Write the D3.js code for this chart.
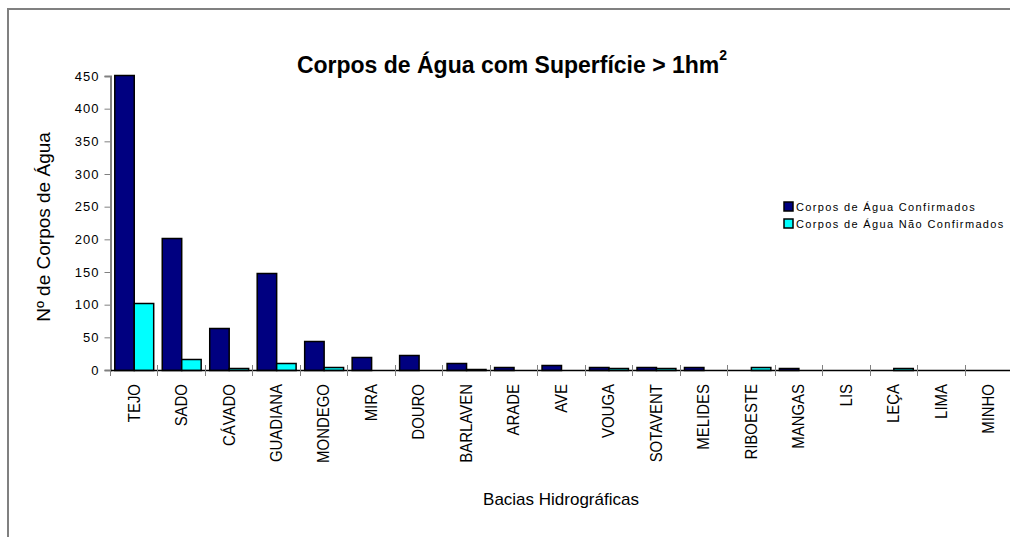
<!DOCTYPE html>
<html>
<head>
<meta charset="utf-8">
<script src="https://cdn.jsdelivr.net/npm/d3@7"></script>
<style>
  body { margin: 0; background: #fff; }
  svg { display: block; font-family: "Liberation Sans", Arial, sans-serif; }
</style>
</head>
<body>
<div id="chart"></div>
<script>
// bacias hidrograficas
var categories = ["TEJO", "SADO", "CÁVADO", "GUADIANA", "MONDEGO", "MIRA", "DOURO", "BARLAVEN", "ARADE", "AVE",
                  "VOUGA", "SOTAVENT", "MELIDES", "RIBOESTE", "MANGAS", "LIS", "LEÇA", "LIMA", "MINHO"];
var confirmados =    [452, 202, 65, 148, 44, 20, 23, 10, 4, 7, 4, 4, 4, 0, 3, 0, 0, 0, 0];
var naoConfirmados = [102, 17, 3, 10, 5, 0, 0, 2, 0, 0, 3, 3, 0, 5, 0, 0, 3, 0, 0];
var seriesNames = ["Corpos de Água Confirmados", "Corpos de Água Não Confirmados"];
var seriesColors = ["#000080", "#00ffff"];
var yTicks = [0, 50, 100, 150, 200, 250, 300, 350, 400, 450];

var width = 1010, height = 537;

var svg = d3.select("#chart").append("svg")
    .attr("width", width)
    .attr("height", height);

// outer frame
svg.append("rect")
    .attr("x", 8).attr("y", 9)
    .attr("width", 1100).attr("height", 600)
    .attr("fill", "none")
    .attr("stroke", "#808080")
    .attr("stroke-width", 2);

var x0 = d3.scaleBand()
    .domain(categories)
    .range([110, 1012]);

var x1 = d3.scaleBand()
    .domain([0, 1])
    .range([0, x0.bandwidth()])
    .paddingOuter(0.22);

var y = d3.scaleLinear()
    .domain([0, 450])
    .range([370, 76]);

var data = categories.map(function(c, i) {
  return {name: c, values: [confirmados[i], naoConfirmados[i]]};
});

// bars
var group = svg.selectAll("g.cat")
  .data(data)
  .enter().append("g")
    .attr("class", "cat")
    .attr("transform", function(d) { return "translate(" + x0(d.name) + ",0)"; });

group.selectAll("rect")
  .data(function(d) { return d.values.map(function(v, i) { return {v: v, i: i}; }); })
  .enter().filter(function(d) { return d.v > 0; }).append("rect")
    .attr("x", function(d) { return x1(d.i) + 0.5; })
    .attr("y", function(d) { return Math.round(y(d.v)) + 0.5; })
    .attr("width", x1.bandwidth())
    .attr("height", function(d) { return Math.round(y(0) - y(d.v)); })
    .attr("fill", function(d) { return seriesColors[d.i]; })
    .attr("stroke", "#000")
    .attr("stroke-width", 1.5);

// y axis
var yAxis = d3.axisLeft(y)
    .tickValues(yTicks)
    .tickSize(6)
    .tickPadding(5);

var gy = svg.append("g")
    .attr("transform", "translate(110.5,0)")
    .call(yAxis);
gy.select(".domain").attr("stroke", "#808080").attr("stroke-width", 2);
gy.selectAll(".tick line").attr("stroke", "#808080");
gy.selectAll(".tick text")
    .attr("font-size", 13)
    .attr("letter-spacing", 1)
    .attr("fill", "#000")
    .attr("font-family", "Liberation Sans, Arial, sans-serif");

// x axis line and ticks
svg.append("line")
    .attr("x1", 110).attr("x2", 1010)
    .attr("y1", 370.5).attr("y2", 370.5)
    .attr("stroke", "#000")
    .attr("stroke-width", 1.5);

svg.selectAll("line.xtick")
  .data(categories)
  .enter().append("line")
    .attr("class", "xtick")
    .attr("x1", function(d) { return Math.round(x0(d)) + 0.5; })
    .attr("x2", function(d) { return Math.round(x0(d)) + 0.5; })
    .attr("y1", 365).attr("y2", 376)
    .attr("stroke", "#808080");

// category labels, condensed like the original narrow font
svg.selectAll("text.xlab")
  .data(categories)
  .enter().append("text")
    .attr("class", "xlab")
    .attr("transform", function(d) {
      return "translate(" + (x0(d) + x0.bandwidth() / 2) + ",384) rotate(-90) scale(0.88,1)";
    })
    .attr("text-anchor", "end")
    .attr("dominant-baseline", "central")
    .attr("font-size", 17)
    .text(function(d) { return d; });

// titles
var title = svg.append("text")
    .attr("x", 512)
    .attr("y", 73)
    .attr("text-anchor", "middle")
    .attr("font-size", 23)
    .attr("font-weight", "bold");
title.append("tspan").text("Corpos de Água com Superfície > 1hm");
title.append("tspan").attr("font-size", 14).attr("dy", -13).text("2");

svg.append("text")
    .attr("transform", "translate(50,227) rotate(-90)")
    .attr("text-anchor", "middle")
    .attr("font-size", 19)
    .text("Nº de Corpos de Água");

svg.append("text")
    .attr("x", 561)
    .attr("y", 505)
    .attr("text-anchor", "middle")
    .attr("font-size", 17)
    .text("Bacias Hidrográficas");

// legend
var legend = svg.selectAll("g.leg")
  .data(seriesNames)
  .enter().append("g")
    .attr("class", "leg")
    .attr("transform", function(d, i) { return "translate(784," + (202 + i * 17) + ")"; });

legend.append("rect")
    .attr("width", 9).attr("height", 9)
    .attr("fill", function(d, i) { return seriesColors[i]; })
    .attr("stroke", "#000")
    .attr("stroke-width", 1.5);

legend.append("text")
    .attr("x", 12)
    .attr("y", 9)
    .attr("font-size", 11)
    .attr("letter-spacing", 1.35)
    .text(function(d) { return d; });
</script>
</body>
</html>
